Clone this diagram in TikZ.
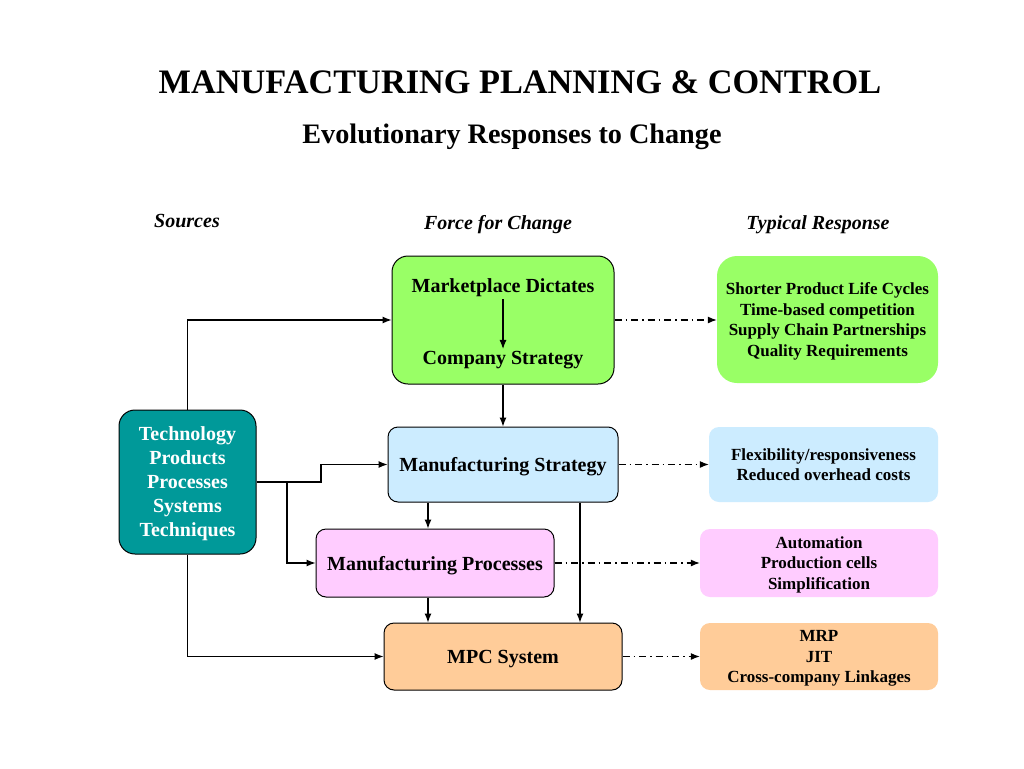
\documentclass[tikz,border=0pt]{standalone}
\usepackage{fontspec}
\setmainfont{Liberation Serif}
\usepackage{tikz}
\usetikzlibrary{positioning, calc}
\usetikzlibrary{arrows.meta}
\definecolor{techteal}{RGB}{0,153,153}
\definecolor{mktgreen}{RGB}{153,255,102}
\definecolor{stratblue}{RGB}{204,236,255}
\definecolor{procpink}{RGB}{255,204,255}
\definecolor{mpcorange}{RGB}{255,204,153}
\tikzstyle{forcebox}=[rectangle,rounded corners=10pt,draw=black,line width=1pt,
align=center,text depth=0pt,font=\fontsize{20}{24}\selectfont\bfseries]
\tikzstyle{respbox}=[rectangle,rounded corners=10pt,draw=none,align=center,
text depth=0pt,font=\fontsize{17}{20.4}\selectfont\bfseries]
\tikzstyle{textbox}=[inner sep=2pt,font=\fontsize{20}{24}\selectfont\bfseries]
\tikzstyle{headbox}=[inner sep=0pt,font=\fontsize{20}{24}\selectfont\bfseries\itshape]
\tikzstyle{edgepath} = [-{Latex[length=9pt,width=7pt]},line width=1.1pt]
\tikzstyle{resppath} = [-{Latex[length=9pt,width=7pt]},line width=1.1pt,
dash pattern=on 7pt off 4pt on 1.5pt off 4pt]

\begin{document}
\begin{tikzpicture}[x=1pt,y=-1pt]
    \useasboundingbox[fill=white] (0,0) rectangle (1024,768);
    \node[inner sep=0pt, font=\fontsize{34.3}{40}\selectfont\bfseries] (title) at (520,82) {MANUFACTURING PLANNING \& CONTROL};
    \node[inner sep=0pt, font=\fontsize{28.2}{32}\selectfont\bfseries] (subtitle) at (512,137) {Evolutionary Responses to Change};
    
    \node[headbox] (hsrc) at (187,221) {Sources};
    \node[headbox] (hforce) at (498,225) {Force for Change};
    \node[headbox] (hresp) at (818,225) {Typical Response};
    
    \node[forcebox, rounded corners=16pt, fill=mktgreen, minimum width=222pt, minimum height=128pt] (market) at (503,320) {};
    \node[textbox] (mdict) at (503,288) {Marketplace Dictates};
    \node[textbox] (cstrat) at (503,360) {Company Strategy};
    \node[forcebox, rounded corners=16pt, fill=techteal, text=white, minimum width=137pt, minimum height=144pt] (tech) at (187.5,482) {Technology\\Products\\Processes\\Systems\\Techniques};
    \node[forcebox, fill=stratblue, minimum width=230pt, minimum height=75pt] (mstrat) at (503,464.5) {Manufacturing Strategy};
    \node[forcebox, fill=procpink, minimum width=238pt, minimum height=68pt] (mproc) at (435,563) {Manufacturing Processes};
    \node[forcebox, fill=mpcorange, minimum width=238pt, minimum height=67pt] (mpc) at (503,656.5) {MPC System};
    
    \node[respbox, rounded corners=20pt, fill=mktgreen, minimum width=221pt, minimum height=127pt] (resp1) at (827.5,319.5) {Shorter Product Life Cycles\\Time-based competition\\Supply Chain Partnerships\\Quality Requirements};
    \node[respbox, fill=stratblue, minimum width=229pt, minimum height=75pt] (resp2) at (823.5,464.5) {Flexibility/responsiveness\\Reduced overhead costs};
    \node[respbox, fill=procpink, minimum width=238pt, minimum height=68pt] (resp3) at (819,563) {Automation\\Production cells\\Simplification};
    \node[respbox, fill=mpcorange, minimum width=238pt, minimum height=67pt] (resp4) at (819,656.5) {MRP\\JIT\\Cross-company Linkages};
    
    \coordinate (kink) at (321,482);
    \coordinate (branch) at (287,482);
    
    \draw[edgepath] (mdict) -- (cstrat);
    \draw[edgepath] (tech.north) |- (market.west);
    \draw[edgepath] (tech.east) -- (kink) |- (mstrat.west);
    \draw[edgepath] (branch) |- (mproc.west);
    \draw[edgepath] (tech.south) |- (mpc.west);
    \draw[edgepath] (market.south) -- (mstrat.north);
    \draw[edgepath] ([xshift=-75pt]mstrat.south) -- ([xshift=-75pt]mstrat.south |- mproc.north);
    \draw[edgepath] ([xshift=-7pt]mproc.south) -- ([xshift=-7pt]mproc.south |- mpc.north);
    \draw[edgepath] ([xshift=77pt]mstrat.south) -- ([xshift=77pt]mstrat.south |- mpc.north);
    
    \path[resppath]
        (market.east) edge (market.east -| resp1.west)
        (mstrat.east) edge (mstrat.east -| resp2.west)
        (mproc.east) edge (mproc.east -| resp3.west)
        (mpc.east) edge (mpc.east -| resp4.west);
\end{tikzpicture}
\end{document}
